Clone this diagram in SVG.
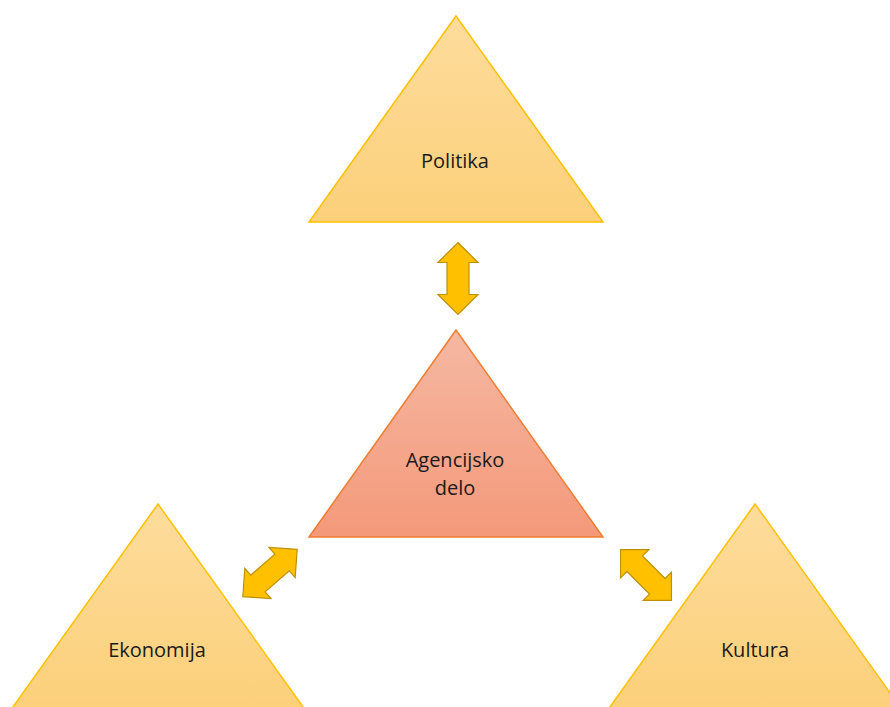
<svg xmlns="http://www.w3.org/2000/svg" width="890" height="707" viewBox="0 0 890 707">
<defs>
<linearGradient id="gy" x1="0" y1="0" x2="0" y2="1">
<stop offset="0" stop-color="#FDDC9C"/>
<stop offset="1" stop-color="#FCD07A"/>
</linearGradient>
<linearGradient id="go" x1="0" y1="0" x2="0" y2="1">
<stop offset="0" stop-color="#F5B8A2"/>
<stop offset="1" stop-color="#F4997A"/>
</linearGradient>
<polygon id="arr" points="0,-36 20,-16 11,-16 11,16 20,16 0,36 -20,16 -11,16 -11,-16 -20,-16"/>
</defs>
<style>
.ty{fill:url(#gy);stroke:#FFC000;stroke-width:1.5}
.to{fill:url(#go);stroke:#ED7D31;stroke-width:1.5}
.ar{fill:#FFC000;stroke:#BF9000;stroke-width:1.2}
text{font-family:"Open Sans","Liberation Sans",sans-serif;font-size:20px;fill:#1a1a1a;text-anchor:middle}
</style>
<rect width="890" height="707" fill="#FFFFFF"/>
<g id="politika">
<polygon class="ty" points="456,16 309,222 603,222"/>
<text x="455" y="168">Politika</text>
</g>
<g id="agencijsko">
<polygon class="to" points="456,330 309,537 603,537"/>
<text x="455" y="467">Agencijsko</text>
<text x="455" y="495">delo</text>
</g>
<g id="ekonomija">
<polygon class="ty" points="158,504 10,711 306,711"/>
<text x="157" y="657">Ekonomija</text>
</g>
<g id="kultura">
<polygon class="ty" points="755,504 607,711 903,711"/>
<text x="755" y="657">Kultura</text>
</g>
<g id="connectors">
<use href="#arr" class="ar" transform="translate(458,278.5)"/>
<use href="#arr" class="ar" transform="translate(270,573) rotate(49)"/>
<use href="#arr" class="ar" transform="translate(646,575) rotate(-45)"/>
</g>
</svg>
